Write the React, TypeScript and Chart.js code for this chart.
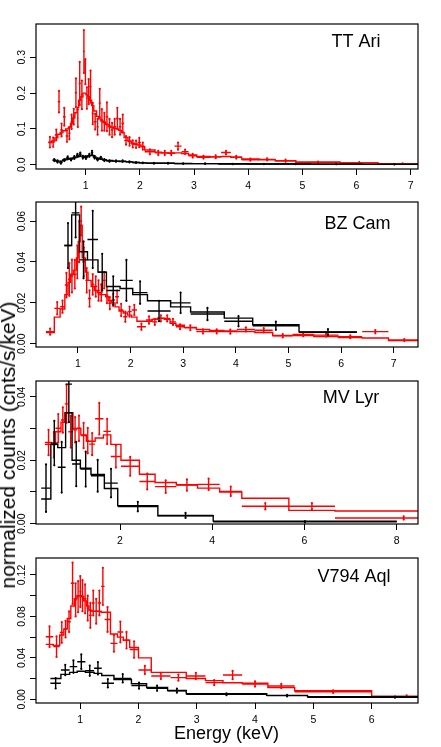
import { useEffect, useRef } from "react";
import { Chart, registerables } from "chart.js";

Chart.register(...registerables);

const FONT = '"Liberation Sans", Arial, Helvetica, sans-serif';
const RED = "#ff0000";
const BLACK = "#000000";

// ---------------- TT Ari ----------------
const ttAriRedEdges = [0.31, 0.37, 0.43, 0.485, 0.53, 0.58, 0.63, 0.68, 0.72, 0.76, 0.80, 0.84, 0.87, 0.91, 0.95, 0.985, 1.005, 1.04, 1.07, 1.11, 1.15, 1.20, 1.24, 1.28, 1.32, 1.37, 1.415, 1.465, 1.51, 1.56, 1.61, 1.66, 1.71, 1.78, 1.84, 1.90, 1.96, 2.02, 2.09, 2.28, 2.40, 2.52, 2.64, 2.77, 2.90, 3.05, 3.30, 3.50, 3.68, 3.88, 4.20, 4.50, 4.88, 5.70, 6.40, 7.30];
const ttAriRedVals = [0.063, 0.063, 0.083, 0.176, 0.097, 0.134, 0.080, 0.088, 0.120, 0.134, 0.201, 0.130, 0.227, 0.195, 0.316, 0.260, 0.186, 0.204, 0.218, 0.143, 0.120, 0.106, 0.172, 0.125, 0.120, 0.134, 0.106, 0.097, 0.106, 0.129, 0.106, 0.115, 0.068, 0.065, 0.058, 0.057, 0.062, 0.052, 0.036, 0.033, 0.033, 0.033, 0.052, 0.036, 0.025, 0.021, 0.022, 0.034, 0.021, 0.014, 0.015, 0.011, 0.007, 0.005, 0.003];
const ttAriRedErrs = [0.015, 0.013, 0.015, 0.03, 0.018, 0.025, 0.016, 0.017, 0.02, 0.022, 0.04, 0.025, 0.06, 0.04, 0.06, 0.035, 0.03, 0.035, 0.045, 0.03, 0.022, 0.022, 0.04, 0.03, 0.025, 0.04, 0.022, 0.02, 0.022, 0.03, 0.022, 0.025, 0.012, 0.012, 0.01, 0.01, 0.013, 0.01, 0.007, 0.006, 0.006, 0.006, 0.01, 0.006, 0.005, 0.004, 0.004, 0.005, 0.004, 0.003, 0.003, 0.003, 0.002, 0.002, 0.001];
const ttAriRedModel = [0.062, 0.066, 0.075, 0.085, 0.090, 0.095, 0.100, 0.105, 0.115, 0.130, 0.145, 0.160, 0.180, 0.190, 0.200, 0.200, 0.195, 0.190, 0.180, 0.165, 0.150, 0.135, 0.128, 0.122, 0.118, 0.113, 0.108, 0.104, 0.102, 0.100, 0.096, 0.090, 0.076, 0.066, 0.060, 0.057, 0.055, 0.050, 0.041, 0.035, 0.033, 0.032, 0.033, 0.031, 0.027, 0.023, 0.022, 0.023, 0.021, 0.016, 0.014, 0.011, 0.007, 0.005, 0.003];

const ttAriBlackEdges = [0.39, 0.45, 0.51, 0.575, 0.635, 0.70, 0.76, 0.82, 0.875, 0.925, 0.97, 1.04, 1.095, 1.14, 1.19, 1.25, 1.31, 1.38, 1.50, 1.62, 1.745, 1.87, 1.99, 2.12, 2.40, 2.64, 2.96, 3.45, 3.98, 4.60, 5.15, 6.10, 7.30];
const ttAriBlackVals = [0.013, 0.009, 0.006, 0.013, 0.019, 0.015, 0.020, 0.026, 0.029, 0.021, 0.020, 0.026, 0.034, 0.021, 0.015, 0.019, 0.013, 0.010, 0.010, 0.010, 0.008, 0.006, 0.005, 0.004, 0.004, 0.003, 0.003, 0.002, 0.002, 0.002, 0.0015, 0.001];
const ttAriBlackErrs = [0.003, 0.003, 0.003, 0.003, 0.004, 0.003, 0.004, 0.004, 0.005, 0.004, 0.004, 0.004, 0.005, 0.004, 0.003, 0.003, 0.003, 0.002, 0.002, 0.002, 0.0015, 0.0012, 0.001, 0.001, 0.001, 0.0008, 0.0008, 0.0006, 0.0006, 0.0005, 0.0005, 0.0004];
const ttAriBlackModel = [0.012, 0.010, 0.010, 0.013, 0.016, 0.017, 0.019, 0.022, 0.024, 0.024, 0.023, 0.025, 0.026, 0.022, 0.018, 0.016, 0.014, 0.012, 0.010, 0.009, 0.008, 0.006, 0.005, 0.0045, 0.004, 0.0035, 0.003, 0.0025, 0.002, 0.002, 0.0015, 0.001];

const ttAriXTicks = [1, 2, 3, 4, 5, 6, 7];
const ttAriXLabels = ["1", "2", "3", "4", "5", "6", "7"];
const ttAriYTicks = [0, 0.1, 0.2, 0.3];
const ttAriYLabels = ["0.0", "0.1", "0.2", "0.3"];

// ---------------- BZ Cam ----------------
const bzCamRedEdges = [0.39, 0.55, 0.66, 0.75, 0.81, 0.86, 0.91, 0.97, 1.005, 1.04, 1.08, 1.14, 1.19, 1.25, 1.31, 1.365, 1.415, 1.47, 1.525, 1.575, 1.635, 1.705, 1.78, 1.86, 1.94, 2.02, 2.12, 2.29, 2.41, 2.51, 2.64, 2.75, 2.86, 3.02, 3.25, 3.50, 3.77, 4.02, 4.36, 4.70, 5.08, 5.48, 5.95, 6.40, 6.90, 7.50];
const bzCamRedVals = [0.0059, 0.0173, 0.0181, 0.0287, 0.0314, 0.0331, 0.034, 0.040, 0.0499, 0.0600, 0.040, 0.031, 0.0221, 0.029, 0.028, 0.026, 0.025, 0.031, 0.0238, 0.0198, 0.0214, 0.023, 0.0165, 0.0132, 0.0157, 0.0165, 0.0083, 0.0116, 0.0107, 0.0124, 0.0124, 0.0107, 0.0083, 0.0078, 0.0060, 0.0060, 0.0059, 0.0070, 0.0066, 0.0039, 0.0045, 0.0042, 0.0034, 0.0059, 0.0018];
const bzCamRedErrs = [0.0015, 0.003, 0.003, 0.006, 0.008, 0.008, 0.007, 0.008, 0.01, 0.007, 0.007, 0.006, 0.004, 0.005, 0.005, 0.005, 0.004, 0.004, 0.004, 0.003, 0.003, 0.003, 0.003, 0.0025, 0.0025, 0.0025, 0.0015, 0.0018, 0.0015, 0.0015, 0.0015, 0.0015, 0.0012, 0.0012, 0.001, 0.001, 0.001, 0.001, 0.001, 0.0008, 0.0008, 0.0008, 0.0007, 0.0008, 0.0005];
const bzCamRedModel = [0.0055, 0.013, 0.017, 0.024, 0.03, 0.034, 0.036, 0.042, 0.05, 0.058, 0.042, 0.035, 0.031, 0.028, 0.026, 0.025, 0.024, 0.024, 0.023, 0.021, 0.020, 0.018, 0.016, 0.015, 0.014, 0.013, 0.011, 0.011, 0.012, 0.0125, 0.012, 0.010, 0.009, 0.008, 0.007, 0.0065, 0.0062, 0.006, 0.0055, 0.004, 0.004, 0.0035, 0.003, 0.0028, 0.0015];

const bzCamBlackEdges = [0.74, 0.88, 1.03, 1.18, 1.38, 1.54, 1.80, 2.04, 2.32, 2.76, 3.14, 3.78, 4.32, 5.20, 6.30];
const bzCamBlackVals = [0.048, 0.064, 0.041, 0.051, 0.035, 0.026, 0.031, 0.025, 0.016, 0.020, 0.0145, 0.011, 0.0088, 0.0056];
const bzCamBlackErrs = [0.011, 0.012, 0.009, 0.014, 0.009, 0.007, 0.01, 0.0055, 0.005, 0.005, 0.003, 0.0025, 0.002, 0.0015];
const bzCamBlackModel = [0.048, 0.063, 0.045, 0.041, 0.035, 0.028, 0.027, 0.024, 0.021, 0.018, 0.0155, 0.0125, 0.0093, 0.0058];

const bzCamXTicks = [1, 2, 3, 4, 5, 6, 7];
const bzCamXLabels = ["1", "2", "3", "4", "5", "6", "7"];
const bzCamYTicks = [0, 0.02, 0.04, 0.06];
const bzCamYLabels = ["0.00", "0.02", "0.04", "0.06"];

// ---------------- MV Lyr ----------------
const mvLyrRedEdges = [0.37, 0.53, 0.60, 0.72, 0.80, 0.88, 0.98, 1.07, 1.15, 1.27, 1.33, 1.46, 1.64, 1.80, 2.02, 2.42, 2.76, 3.22, 3.68, 4.16, 4.64, 5.66, 6.66, 9.64];
const mvLyrRedVals = [0.0256, 0.0249, 0.0301, 0.0327, 0.0378, 0.0290, 0.0296, 0.0301, 0.0278, 0.0262, 0.0251, 0.0331, 0.0291, 0.0212, 0.0181, 0.0133, 0.0117, 0.0122, 0.0124, 0.0102, 0.0055, 0.0055, 0.0018];
const mvLyrRedErrs = [0.004, 0.004, 0.0045, 0.004, 0.006, 0.005, 0.004, 0.004, 0.004, 0.004, 0.0035, 0.005, 0.004, 0.0035, 0.003, 0.0025, 0.002, 0.0018, 0.0018, 0.0015, 0.001, 0.001, 0.0005];
const mvLyrRedModel = [0.025, 0.025, 0.029, 0.032, 0.035, 0.035, 0.030, 0.030, 0.028, 0.026, 0.026, 0.027, 0.028, 0.025, 0.020, 0.0156, 0.013, 0.0123, 0.0112, 0.0100, 0.0080, 0.0042, 0.0040];

const mvLyrBlackEdges = [0.29, 0.50, 0.65, 0.82, 0.96, 1.14, 1.37, 1.66, 1.95, 2.82, 4.02, 8.0];
const mvLyrBlackVals = [0.0112, 0.0254, 0.0178, 0.0440, 0.0188, 0.0172, 0.0151, 0.0128, 0.0054, 0.0026, 0.0006];
const mvLyrBlackErrs = [0.0075, 0.007, 0.008, 0.012, 0.007, 0.0055, 0.005, 0.0045, 0.0015, 0.0008, 0.0002];
const mvLyrBlackModel = [0.0078, 0.025, 0.024, 0.035, 0.020, 0.0175, 0.0155, 0.0111, 0.0057, 0.0025, 0.0008];

const mvLyrXTicks = [2, 4, 6, 8];
const mvLyrXLabels = ["2", "4", "6", "8"];
const mvLyrYTicks = [0, 0.01, 0.02, 0.03, 0.04];
const mvLyrYLabels = ["0.00", "", "0.02", "", "0.04"];

// ---------------- V794 Aql ----------------
const v794RedEdges = [0.41, 0.54, 0.65, 0.72, 0.78, 0.84, 0.90, 0.945, 0.985, 1.02, 1.06, 1.11, 1.15, 1.20, 1.25, 1.30, 1.36, 1.42, 1.52, 1.64, 1.74, 1.85, 2.00, 2.22, 2.55, 2.82, 3.15, 3.45, 3.78, 4.22, 4.68, 6.0, 7.2];
const v794RedVals = [0.0604, 0.0508, 0.0645, 0.0677, 0.0749, 0.112, 0.096, 0.099, 0.104, 0.100, 0.097, 0.088, 0.081, 0.093, 0.085, 0.093, 0.109, 0.077, 0.054, 0.065, 0.057, 0.048, 0.0283, 0.0225, 0.0209, 0.0225, 0.0161, 0.0234, 0.0148, 0.0128, 0.0073, 0.003];
const v794RedErrs = [0.01, 0.01, 0.01, 0.008, 0.01, 0.02, 0.016, 0.015, 0.015, 0.015, 0.014, 0.012, 0.012, 0.012, 0.012, 0.012, 0.018, 0.012, 0.008, 0.01, 0.008, 0.008, 0.004, 0.003, 0.003, 0.003, 0.0025, 0.004, 0.0025, 0.002, 0.0012, 0.0008];
const v794RedModel = [0.053, 0.052, 0.062, 0.068, 0.078, 0.090, 0.097, 0.100, 0.100, 0.099, 0.095, 0.090, 0.086, 0.085, 0.085, 0.085, 0.084, 0.084, 0.063, 0.060, 0.057, 0.050, 0.040, 0.026, 0.026, 0.020, 0.018, 0.016, 0.0155, 0.0112, 0.0083, 0.0025];

const v794BlackEdges = [0.49, 0.67, 0.82, 0.95, 1.09, 1.24, 1.37, 1.58, 1.88, 2.14, 2.50, 2.82, 4.20, 4.90, 7.90];
const v794BlackVals = [0.0154, 0.0283, 0.0315, 0.0363, 0.0276, 0.0299, 0.0154, 0.0202, 0.0132, 0.0107, 0.0083, 0.0048, 0.0035, 0.0020];
const v794BlackErrs = [0.005, 0.005, 0.006, 0.007, 0.005, 0.006, 0.004, 0.004, 0.003, 0.0025, 0.002, 0.0008, 0.0008, 0.0005];
const v794BlackModel = [0.020, 0.024, 0.026, 0.027, 0.026, 0.025, 0.023, 0.019, 0.015, 0.0115, 0.0085, 0.0055, 0.0038, 0.0025];

const v794XTicks = [1, 2, 3, 4, 5, 6];
const v794XLabels = ["1", "2", "3", "4", "5", "6"];
const v794YTicks = [0, 0.02, 0.04, 0.06, 0.08, 0.1, 0.12];
const v794YLabels = ["0.00", "", "0.04", "", "0.08", "", "0.12"];

// ---------------- helpers ----------------
type Series = { edges: number[]; vals: number[]; errs: number[]; model: number[]; color: string };

function stepData(s: Series) {
  const out: any[] = [];
  for (let i = 0; i < s.model.length; i++) {
    out.push({ x: s.edges[i], y: s.model[i] });
    out.push({ x: s.edges[i + 1], y: s.model[i] });
  }
  return out;
}

function crossData(s: Series) {
  const out: any[] = [];
  for (let i = 0; i < s.vals.length; i++) {
    const lo = s.edges[i];
    const hi = s.edges[i + 1];
    const c = (lo + hi) / 2;
    const v = s.vals[i];
    const e = s.errs[i];
    out.push({ x: lo, y: v }, { x: hi, y: v }, { x: c, y: null });
    out.push({ x: c, y: v - e, cap: true }, { x: c, y: v + e, cap: true }, { x: c, y: null });
  }
  return out;
}

type Panel = {
  name: string;
  top: number;
  height: number;
  xMin: number;
  xMax: number;
  yMin: number;
  yMax: number;
  xTicks: number[];
  xLabels: string[];
  yTicks: number[];
  yLabels: string[];
  titleX: number;
  titleBase: number;
  series: Series[];
};

const panels: Panel[] = [
  {
    name: "TT Ari", top: 24, height: 145, xMin: 0.083, xMax: 7.135, yMin: -0.012, yMax: 0.393,
    xTicks: ttAriXTicks, xLabels: ttAriXLabels, yTicks: ttAriYTicks, yLabels: ttAriYLabels,
    titleX: 356, titleBase: 47.3,
    series: [
      { edges: ttAriRedEdges, vals: ttAriRedVals, errs: ttAriRedErrs, model: ttAriRedModel, color: RED },
      { edges: ttAriBlackEdges, vals: ttAriBlackVals, errs: ttAriBlackErrs, model: ttAriBlackModel, color: BLACK },
    ],
  },
  {
    name: "BZ Cam", top: 202, height: 145, xMin: 0.202, xMax: 7.461, yMin: -0.0016, yMax: 0.0693,
    xTicks: bzCamXTicks, xLabels: bzCamXLabels, yTicks: bzCamYTicks, yLabels: bzCamYLabels,
    titleX: 357.5, titleBase: 229.3,
    series: [
      { edges: bzCamRedEdges, vals: bzCamRedVals, errs: bzCamRedErrs, model: bzCamRedModel, color: RED },
      { edges: bzCamBlackEdges, vals: bzCamBlackVals, errs: bzCamBlackErrs, model: bzCamBlackModel, color: BLACK },
    ],
  },
  {
    name: "MV Lyr", top: 381, height: 143, xMin: 0.178, xMax: 8.46, yMin: -0.0001, yMax: 0.045,
    xTicks: mvLyrXTicks, xLabels: mvLyrXLabels, yTicks: mvLyrYTicks, yLabels: mvLyrYLabels,
    titleX: 351, titleBase: 403.3,
    series: [
      { edges: mvLyrRedEdges, vals: mvLyrRedVals, errs: mvLyrRedErrs, model: mvLyrRedModel, color: RED },
      { edges: mvLyrBlackEdges, vals: mvLyrBlackVals, errs: mvLyrBlackErrs, model: mvLyrBlackModel, color: BLACK },
    ],
  },
  {
    name: "V794 Aql", top: 558, height: 145, xMin: 0.243, xMax: 6.795, yMin: -0.0036, yMax: 0.1364,
    xTicks: v794XTicks, xLabels: v794XLabels, yTicks: v794YTicks, yLabels: v794YLabels,
    titleX: 354, titleBase: 581.7,
    series: [
      { edges: v794RedEdges, vals: v794RedVals, errs: v794RedErrs, model: v794RedModel, color: RED },
      { edges: v794BlackEdges, vals: v794BlackVals, errs: v794BlackErrs, model: v794BlackModel, color: BLACK },
    ],
  },
];

const PAD_TOP = 20;
const X_AXIS_H = 30;
const Y_AXIS_W = 36;
const PAD_RIGHT = 23;
const WIDTH = 441;

function PanelChart({ p }: { p: Panel }) {
  const ref = useRef<HTMLCanvasElement | null>(null);
  const canvasTop = p.top - PAD_TOP;
  const canvasH = p.height + PAD_TOP + X_AXIS_H;

  useEffect(() => {
    if (!ref.current) return;
    const datasets: any[] = [];
    p.series.forEach((s) => {
      const order = s.color === BLACK ? 0 : 1;
      datasets.push({
        data: stepData(s),
        borderColor: s.color,
        borderWidth: 1.4,
        pointRadius: 0,
        fill: false,
        tension: 0,
        order,
      });
      datasets.push({
        data: crossData(s),
        borderColor: s.color,
        backgroundColor: s.color,
        borderWidth: 1.4,
        pointRadius: (ctx: any) => (ctx.raw && ctx.raw.cap ? 1.1 : 0),
        pointBorderWidth: 0,
        pointBackgroundColor: s.color,
        pointHoverRadius: 0,
        fill: false,
        tension: 0,
        spanGaps: false,
        order,
      });
    });

    const framePlugin = {
      id: "frame" + p.name.replace(/\s/g, ""),
      afterDraw(chart: any) {
        const { ctx, chartArea } = chart;
        const xs = chart.scales.x;
        const ys = chart.scales.y;
        ctx.save();
        ctx.strokeStyle = "#000";
        ctx.lineWidth = 1.2;
        ctx.strokeRect(chartArea.left, chartArea.top, chartArea.right - chartArea.left, chartArea.bottom - chartArea.top);
        ctx.fillStyle = "#000";
        ctx.font = "10.5px " + FONT;
        ctx.textAlign = "center";
        ctx.textBaseline = "middle";
        p.xTicks.forEach((v, i) => {
          ctx.fillText(p.xLabels[i], xs.getPixelForValue(v), chartArea.bottom + 17);
        });
        p.yTicks.forEach((v, i) => {
          const lab = p.yLabels[i];
          if (!lab) return;
          ctx.save();
          ctx.translate(22.5, ys.getPixelForValue(v));
          ctx.rotate(-Math.PI / 2);
          ctx.fillText(lab, 0, 0);
          ctx.restore();
        });
        ctx.font = "18px " + FONT;
        ctx.textBaseline = "alphabetic";
        ctx.fillText(p.name, p.titleX, p.titleBase - canvasTop);
        ctx.restore();
      },
    };

    const chart = new Chart(ref.current, {
      type: "line",
      data: { datasets },
      options: {
        animation: false,
        responsive: false,
        maintainAspectRatio: false,
        events: [],
        layout: { padding: { top: PAD_TOP, right: PAD_RIGHT, bottom: 0, left: 0 } },
        plugins: { legend: { display: false }, tooltip: { enabled: false }, title: { display: false } },
        scales: {
          x: {
            type: "linear",
            min: p.xMin,
            max: p.xMax,
            ticks: { display: false },
            grid: { display: true, drawOnChartArea: false, drawTicks: true, tickLength: 6, color: "#000", lineWidth: 1 },
            border: { display: false },
            afterBuildTicks: (s: any) => {
              s.ticks = p.xTicks.map((v) => ({ value: v }));
            },
            afterFit: (s: any) => {
              s.height = X_AXIS_H;
            },
          },
          y: {
            type: "linear",
            min: p.yMin,
            max: p.yMax,
            ticks: { display: false },
            grid: { display: true, drawOnChartArea: false, drawTicks: true, tickLength: 6, color: "#000", lineWidth: 1 },
            border: { display: false },
            afterBuildTicks: (s: any) => {
              s.ticks = p.yTicks.map((v) => ({ value: v }));
            },
            afterFit: (s: any) => {
              s.width = Y_AXIS_W;
            },
          },
        },
      } as any,
      plugins: [framePlugin],
    });
    return () => chart.destroy();
  }, [p]);

  return (
    <canvas
      ref={ref}
      width={WIDTH}
      height={canvasH}
      style={{ position: "absolute", left: 0, top: canvasTop, width: WIDTH, height: canvasH }}
    />
  );
}

export default function App() {
  return (
    <div style={{ position: "absolute", left: 0, top: 0, width: 441, height: 747, background: "#fff", overflow: "hidden" }}>
      {panels.map((p) => (
        <PanelChart key={p.name} p={p} />
      ))}
      <div
        style={{
          position: "absolute",
          left: 7.5,
          top: 445,
          transform: "translate(-50%, -50%) rotate(-90deg)",
          whiteSpace: "nowrap",
          fontFamily: FONT,
          fontSize: 21,
          lineHeight: "24px",
          color: "#000",
        }}
      >
        normalized counts (cnts/s/keV)
      </div>
      <div
        style={{
          position: "absolute",
          left: 226.5,
          top: 723.4,
          transform: "translateX(-50%)",
          whiteSpace: "nowrap",
          fontFamily: FONT,
          fontSize: 18,
          color: "#000",
        }}
      >
        Energy (keV)
      </div>
    </div>
  );
}
